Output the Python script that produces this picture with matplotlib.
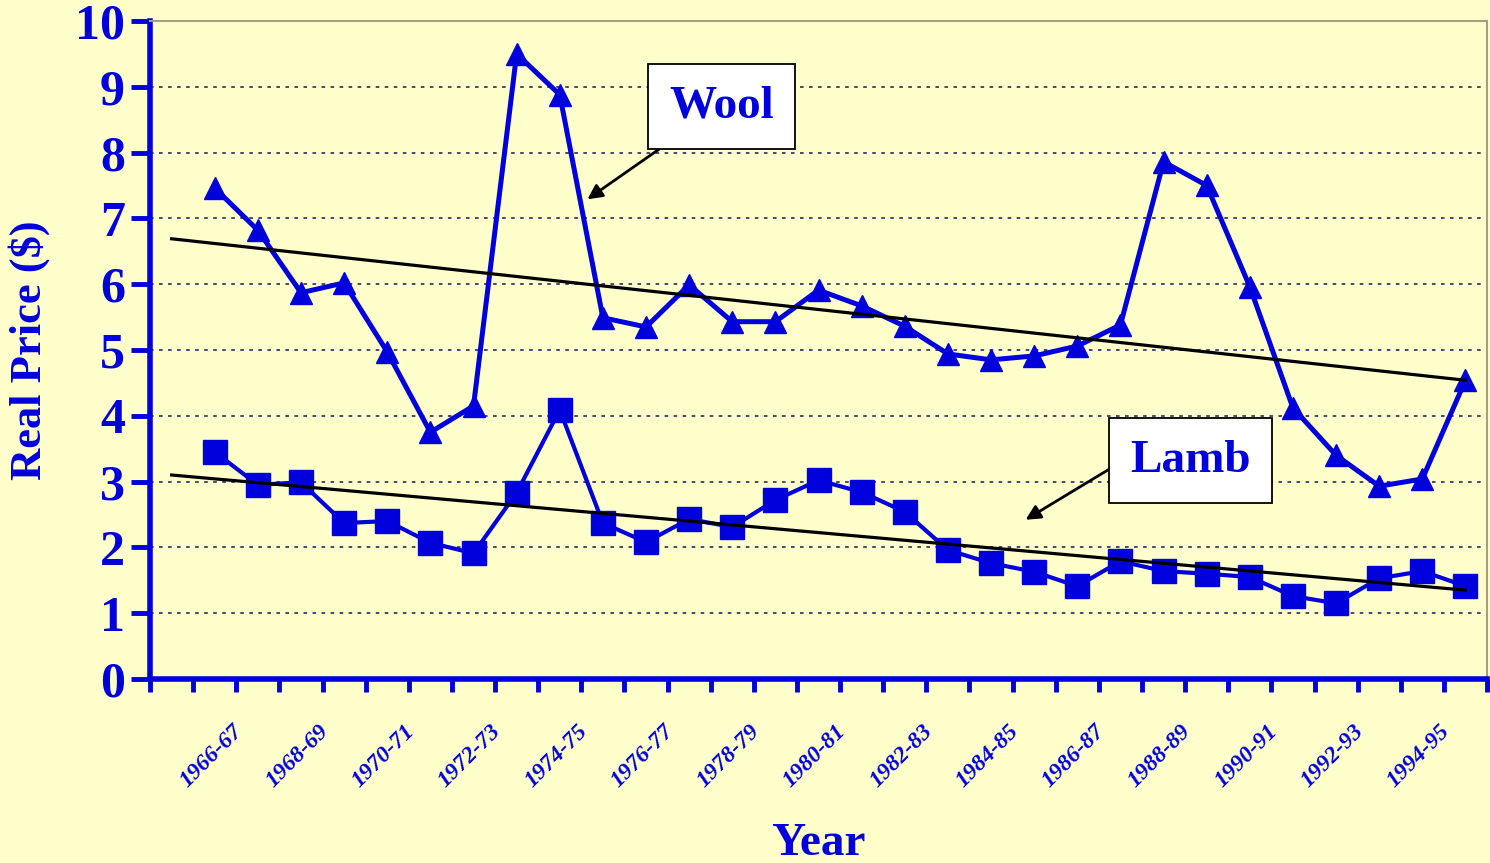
import matplotlib.pyplot as plt
import matplotlib.transforms as mtransforms

# category 0 is an empty slot before the first season
seasons = ['1966-67', '1967-68', '1968-69', '1969-70', '1970-71', '1971-72',
           '1972-73', '1973-74', '1974-75', '1975-76', '1976-77', '1977-78',
           '1978-79', '1979-80', '1980-81', '1981-82', '1982-83', '1983-84',
           '1984-85', '1985-86', '1986-87', '1987-88', '1988-89', '1989-90',
           '1990-91', '1991-92', '1992-93', '1993-94', '1994-95', '1995-96']
wool = [7.46, 6.82, 5.87, 6.02, 4.97, 3.75, 4.15, 9.50, 8.88, 5.49,
        5.35, 5.99, 5.43, 5.43, 5.91, 5.67, 5.36, 4.94, 4.85, 4.91,
        5.06, 5.38, 7.86, 7.50, 5.96, 4.12, 3.40, 2.93, 3.04, 4.54]
lamb = [3.45, 2.95, 2.99, 2.37, 2.40, 2.07, 1.91, 2.83, 4.09, 2.37,
        2.08, 2.43, 2.31, 2.72, 3.02, 2.84, 2.54, 1.96, 1.76, 1.63,
        1.41, 1.79, 1.64, 1.60, 1.55, 1.26, 1.15, 1.53, 1.64, 1.41]
# trend line end values (start of category 0, last season)
wool_trend = [6.69, 4.54]
lamb_trend = [3.10, 1.35]

blue = '#0000DD'
bg = '#FFFFCC'
plt.rcParams['font.family'] = 'Liberation Serif'
plt.rcParams['font.weight'] = 'bold'

fig = plt.figure(figsize=(14.9, 8.63), dpi=100, facecolor=bg)
ax = fig.add_axes([0.1007, 0.2132, 0.8973, 0.7625])
ax.set_facecolor(bg)

x = list(range(1, len(seasons) + 1))
ax.plot(x, wool, color=blue, lw=3.6, marker='^', ms=16, zorder=3)
ax.plot(x, lamb, color=blue, lw=3.0, marker='s', ms=17, zorder=3)
ax.plot([0, len(seasons)], wool_trend, color='black', lw=2.3, zorder=4)
ax.plot([0, len(seasons)], lamb_trend, color='black', lw=2.3, zorder=4)

ax.set_xlim(-0.5, len(seasons) + 0.5)
ax.set_ylim(0, 10)
ax.set_yticks(range(0, 11))
ax.tick_params(axis='y', colors=blue, labelsize=36, length=14, width=3.5, pad=4)
for lab in ax.get_yticklabels():
    lab.set_fontweight('bold')
for y in range(1, 10):
    ax.axhline(y, color='#3A3A6A', lw=1.3, ls=(0, (2, 3)), zorder=1)

# ticks on category boundaries, labels on every other season
ax.set_xticks([i - 0.5 for i in range(len(seasons) + 2)])
ax.set_xticklabels([])
ax.tick_params(axis='x', which='major', colors=blue, length=9, width=3.5)
ax.set_xticks(x[::2], minor=True)
ax.set_xticklabels(seasons[::2], minor=True, rotation=45, ha='right',
                   rotation_mode='anchor', fontsize=17, style='italic',
                   fontweight='bold', color=blue)
ax.tick_params(axis='x', which='minor', length=0, pad=30)
off = mtransforms.ScaledTranslation(0.17, 0, fig.dpi_scale_trans)
for lab in ax.get_xticklabels(minor=True):
    lab.set_transform(lab.get_transform() + off)

for s in ['left', 'bottom']:
    ax.spines[s].set_color(blue)
    ax.spines[s].set_linewidth(4)
for s in ['top', 'right']:
    ax.spines[s].set_color('#A39F80')
    ax.spines[s].set_linewidth(1.5)

ax.set_ylabel('Real Price ($)', color=blue, fontsize=32, fontweight='bold', labelpad=18)
fig.text(0.549, 0.022, 'Year', color=blue, fontsize=34, fontweight='bold',
         ha='center', va='center')

box = dict(boxstyle='square,pad=0.45', fc='white', ec='black', lw=1.3)
ax.annotate('Wool', xy=(9.64, 7.29), xytext=(12.75, 8.70), ha='center', va='center',
            fontsize=34, fontweight='bold', color=blue, bbox=box,
            arrowprops=dict(arrowstyle='-|>', color='black', lw=2, mutation_scale=22,
                            shrinkA=0, shrinkB=0, relpos=(0.2, 0.0)), zorder=5)
ax.annotate('Lamb', xy=(19.8, 2.42), xytext=(23.63, 3.32), ha='center', va='center',
            fontsize=34, fontweight='bold', color=blue, bbox=box,
            arrowprops=dict(arrowstyle='-|>', color='black', lw=2, mutation_scale=22,
                            shrinkA=0, shrinkB=0, relpos=(0.0, 0.6)), zorder=5)

fig.savefig('out.png', dpi=100, facecolor=bg)
